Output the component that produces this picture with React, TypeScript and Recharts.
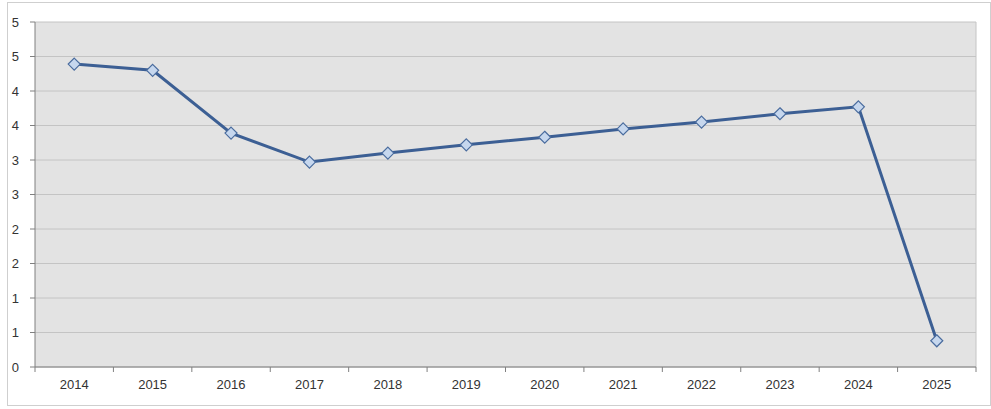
import React from "react";
import { LineChart, Line, XAxis, YAxis, CartesianGrid } from "recharts";

const years = ["2014", "2015", "2016", "2017", "2018", "2019", "2020", "2021", "2022", "2023", "2024", "2025"];
const values = [4.39, 4.3, 3.39, 2.97, 3.1, 3.22, 3.33, 3.45, 3.55, 3.67, 3.77, 0.38];
const yTicks = [0, 0.5, 1, 1.5, 2, 2.5, 3, 3.5, 4, 4.5, 5];

const data = years.map((year, i) => ({ year, value: values[i] }));

const W = 991;
const H = 409;
const PLOT_LEFT = 35;
const PLOT_RIGHT = 976;
const PLOT_BOTTOM = 367;
const X_AXIS_H = 30;
const band = (PLOT_RIGHT - PLOT_LEFT) / years.length;

const Diamond = (props: any) => {
  const { cx, cy } = props;
  if (cx == null || cy == null) return null;
  const r = 6;
  return (
    <polygon
      points={`${cx},${cy - r} ${cx + r},${cy} ${cx},${cy + r} ${cx - r},${cy}`}
      fill="#c6d7ee"
      stroke="#4a6c9e"
      strokeWidth={1.2}
    />
  );
};

const XTick = (props: any) => {
  const { x, payload, index } = props;
  const left = x - band / 2;
  const isLast = index === years.length - 1;
  const ay = PLOT_BOTTOM;
  return (
    <g>
      <line x1={left} y1={ay} x2={left} y2={ay + 5} stroke="#808080" />
      {isLast && <line x1={left + band} y1={ay} x2={left + band} y2={ay + 5} stroke="#808080" />}
      <text x={x} y={ay + 22} textAnchor="middle" fontSize={13} fill="#333" fontFamily="Liberation Sans, Arial, sans-serif">
        {payload.value}
      </text>
    </g>
  );
};

export default function App() {
  return (
    <div style={{ position: "absolute", left: 0, top: 0, width: W, height: H, background: "#fff" }}>
      <div
        style={{
          position: "absolute",
          left: 7,
          top: 2,
          width: 982,
          height: 402,
          border: "1px solid #cfcfcf",
        }}
      />
      <div style={{ position: "absolute", left: 0, top: 0 }}>
        <LineChart
          width={W}
          height={H}
          data={data}
          margin={{ top: 22, right: W - PLOT_RIGHT, bottom: H - PLOT_BOTTOM - X_AXIS_H, left: 0 }}
        >
          <CartesianGrid
            fill="#e3e3e3"
            stroke="#c4c4c4"
            vertical={true}
            verticalPoints={[PLOT_RIGHT]}
          />
          <XAxis
            dataKey="year"
            height={X_AXIS_H}
            padding={{ left: band / 2, right: band / 2 }}
            tick={<XTick />}
            tickLine={false}
            axisLine={{ stroke: "#808080" }}
            interval={0}
          />
          <YAxis
            width={PLOT_LEFT}
            domain={[0, 5]}
            ticks={yTicks}
            tickFormatter={(v: number) => String(Math.round(v))}
            tick={{ fontSize: 13, fill: "#333", fontFamily: "Liberation Sans, Arial, sans-serif" }}
            tickSize={5}
            tickMargin={11}
            tickLine={{ stroke: "#808080" }}
            axisLine={{ stroke: "#808080" }}
          />
          <Line
            type="linear"
            dataKey="value"
            stroke="#3c5f94"
            strokeWidth={3}
            dot={<Diamond />}
            activeDot={false}
            isAnimationActive={false}
          />
        </LineChart>
      </div>
    </div>
  );
}
